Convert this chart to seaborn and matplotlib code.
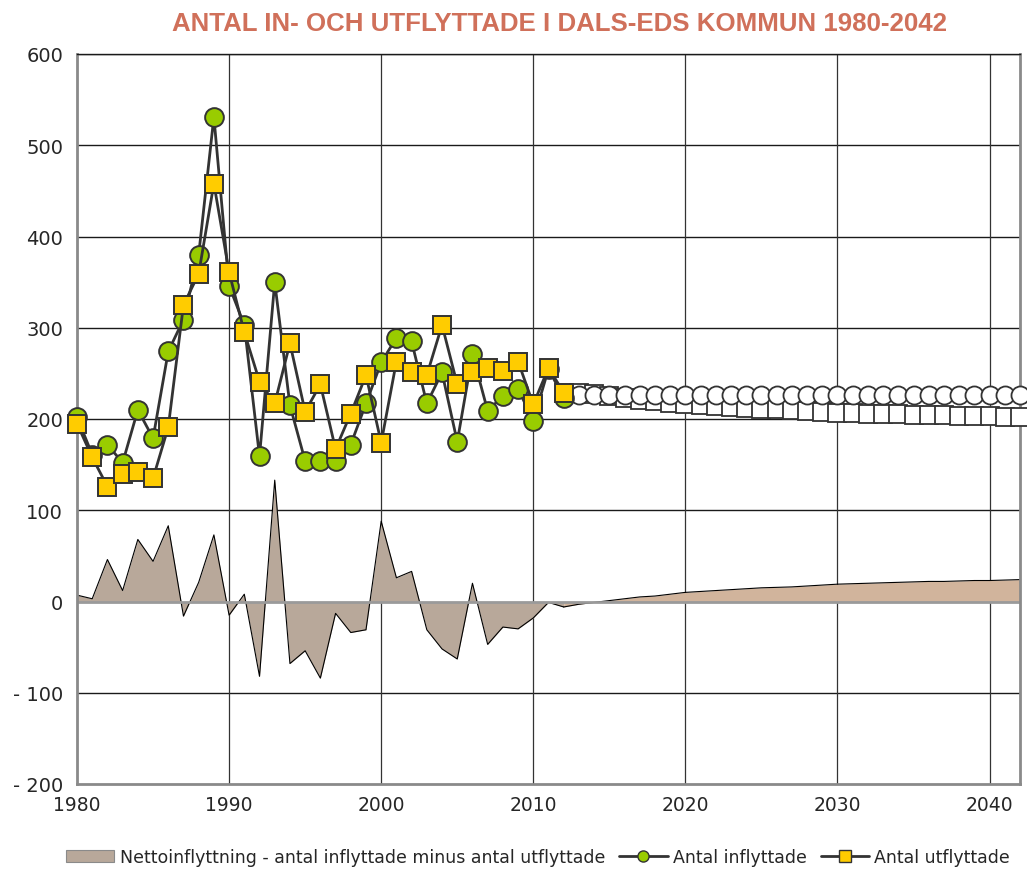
import numpy as np
import pandas as pd
import matplotlib
matplotlib.use("Agg")
import matplotlib.pyplot as plt
import seaborn as sns
from matplotlib.patches import Patch
from matplotlib.lines import Line2D

# Historical values 1980-2012
YEARS_HIST = list(range(1980, 2013))
INFLYTTADE_HIST = [202, 161, 172, 152, 210, 179, 274, 309, 380, 531,
                   346, 303, 159, 350, 215, 154, 154, 154, 172, 217,
                   262, 289, 285, 217, 251, 175, 271, 209, 225, 233,
                   198, 255, 223]
UTFLYTTADE_HIST = [195, 158, 126, 140, 142, 135, 191, 325, 359, 458,
                   361, 295, 241, 217, 283, 208, 238, 167, 206, 248,
                   174, 263, 252, 248, 303, 238, 251, 256, 253, 263,
                   216, 256, 229]

# Projection 2013-2042
YEARS_PROJ = list(range(2013, 2043))
INFLYTTADE_PROJ = [226] * 30
UTFLYTTADE_PROJ = [229, 227, 225, 223, 221, 220, 218, 216, 215, 214,
                   213, 212, 211, 210.5, 210, 209, 208, 207, 206.5, 206,
                   205.5, 205, 204.5, 204, 204, 203.5, 203, 203, 202.5, 202]

Y_TICKS = [600, 500, 400, 300, 200, 100, 0, -100, -200]
Y_LABELS = ["600", "500", "400", "300", "200", "100", "0", "- 100", "- 200"]
X_TICKS = [1980, 1990, 2000, 2010, 2020, 2030, 2040]

hist = pd.DataFrame({"year": YEARS_HIST, "in": INFLYTTADE_HIST, "out": UTFLYTTADE_HIST})
hist["net"] = hist["in"] - hist["out"]
proj = pd.DataFrame({"year": YEARS_PROJ, "in": INFLYTTADE_PROJ, "out": UTFLYTTADE_PROJ})
proj["net"] = proj["in"] - proj["out"]
net_proj = pd.concat([hist.tail(1), proj])

sns.set_style("white")
plt.rcParams["font.family"] = ["DejaVu Sans"]

fig = plt.figure(figsize=(10.27, 8.7), dpi=100)
ax = fig.add_axes([77 / 1027, 1 - 785 / 870, (1020 - 77) / 1027, (785 - 55) / 870])

# grid
for y in Y_TICKS:
    if y not in (0, -200):
        ax.axhline(y, color="#1a1a1a", lw=1.0, zorder=0)
for x in X_TICKS[1:]:
    ax.axvline(x, color="#333333", lw=0.9, zorder=0)

# net area
ax.fill_between(hist["year"], hist["net"], 0, color="#b8a89a", zorder=1, lw=0)
ax.plot(hist["year"], hist["net"], color="black", lw=0.8, zorder=2)
ax.fill_between(net_proj["year"], net_proj["net"], 0, color="#d1b49c", zorder=1, lw=0)
ax.plot(net_proj["year"], net_proj["net"], color="black", lw=0.8, zorder=2)
ax.axhline(0, color="#9a9a9a", lw=2, zorder=2)

# projections (open markers)
sns.lineplot(data=proj, x="year", y="out", ax=ax, color="#333333", lw=0.8,
             marker="s", markersize=12.5, markerfacecolor="white",
             markeredgecolor="#333333", markeredgewidth=1.3, clip_on=False, zorder=3)
sns.lineplot(data=proj, x="year", y="in", ax=ax, color="#333333", lw=0.8,
             marker="o", markersize=13, markerfacecolor="white",
             markeredgecolor="#333333", markeredgewidth=1.3, clip_on=False, zorder=3)

# historical series
sns.lineplot(data=hist, x="year", y="in", ax=ax, color="#333333", lw=2.0,
             marker="o", markersize=13.5, markerfacecolor="#99cc00",
             markeredgecolor="#333333", markeredgewidth=1.4, clip_on=False, zorder=4)
sns.lineplot(data=hist, x="year", y="out", ax=ax, color="#333333", lw=2.0,
             marker="s", markersize=12.5, markerfacecolor="#ffcc00",
             markeredgecolor="#333333", markeredgewidth=1.4, clip_on=False, zorder=5)

ax.set_xlim(1980, 2042)
ax.set_ylim(-200, 600)
ax.set_yticks(Y_TICKS)
ax.set_yticklabels(Y_LABELS, fontsize=14)
ax.set_xticks(X_TICKS)
ax.set_xticklabels([str(x) for x in X_TICKS], fontsize=13.5)
ax.set_xlabel("")
ax.set_ylabel("")
ax.tick_params(axis="y", direction="out", length=6, color="#888888", width=1.5, pad=4)
ax.tick_params(axis="x", length=0, pad=8)
for side in ["left", "right", "bottom"]:
    ax.spines[side].set_color("#8a8a8a")
    ax.spines[side].set_linewidth(2)
ax.spines["top"].set_color("#1a1a1a")
ax.spines["top"].set_linewidth(1.0)

fig.text(559 / 1027, 1 - 24 / 870, "ANTAL IN- OCH UTFLYTTADE I DALS-EDS KOMMUN 1980-2042",
         ha="center", va="center", fontsize=18.6, fontweight="bold", color="#d0705a",
         family=["Liberation Sans", "DejaVu Sans"])

handles = [
    Patch(facecolor="#b8a89a", edgecolor="#8a8a8a", lw=0.8),
    Line2D([0], [0], color="#333333", lw=2, marker="o", markersize=8,
           markerfacecolor="#99cc00", markeredgecolor="#333333"),
    Line2D([0], [0], color="#333333", lw=2, marker="s", markersize=8,
           markerfacecolor="#ffcc00", markeredgecolor="#333333"),
]
labels = ["Nettoinflyttning - antal inflyttade minus antal utflyttade",
          "Antal inflyttade", "Antal utflyttade"]
fig.legend(handles, labels, loc="center", bbox_to_anchor=(538 / 1027, 1 - 858 / 870),
           ncol=3, frameon=False, prop={"size": 12.5},
           handlelength=2.8, handletextpad=0.3, columnspacing=0.8)

fig.savefig("out.png", dpi=100)
